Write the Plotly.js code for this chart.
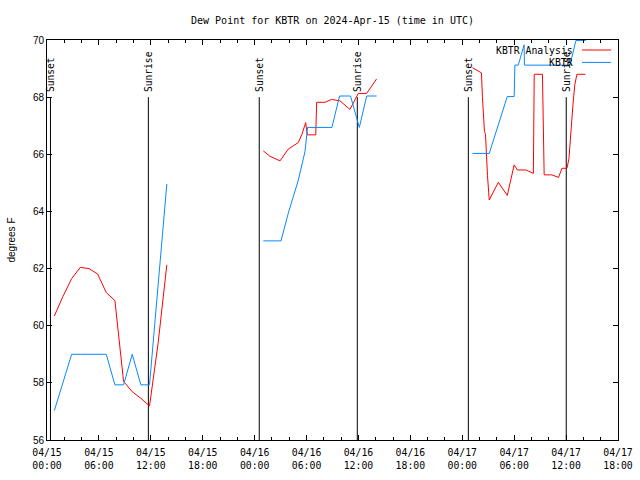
<!DOCTYPE html>
<html>
<head>
<meta charset="utf-8">
<script src="https://cdn.plot.ly/plotly-3.0.1.min.js"></script>
<style>html,body{margin:0;padding:0;background:#fff}#chart{width:640px;height:480px}</style>
</head>
<body>
<div id="chart"></div>
<script>
// ---- Data ----
const chartTitle = 'Dew Point for KBTR on 2024-Apr-15 (time in UTC)';
const yAxisTitle = 'degrees F';
const seriesNames = ['KBTR Analysis', 'KBTR'];
const seriesColors = ['#ff0000', '#0a88ff'];

// Day 1 (04/15) - hourly
const day1Times = ['2024-04-15 00:51','2024-04-15 01:51','2024-04-15 02:51','2024-04-15 03:51','2024-04-15 04:51',
  '2024-04-15 05:51','2024-04-15 06:51','2024-04-15 07:51','2024-04-15 08:51','2024-04-15 09:51',
  '2024-04-15 10:51','2024-04-15 11:51','2024-04-15 12:51','2024-04-15 13:51'];
const analysisDay1 = [60.34, 61.03, 61.65, 62.04, 62.0, 61.81, 61.16, 60.88, 58.05, 57.69, 57.46, 57.19, 59.4, 62.13];
const obsDay1 = [57.03, 58.0, 59.0, 59.0, 59.0, 59.0, 59.0, 57.93, 57.93, 59.0, 57.93, 57.93, 61.3, 64.96];

// Day 2 (04/16)
const analysisDay2Times = ['2024-04-16 01:00','2024-04-16 01:46','2024-04-16 02:56','2024-04-16 03:53','2024-04-16 05:03',
  '2024-04-16 05:28','2024-04-16 05:54','2024-04-16 06:05','2024-04-16 07:04','2024-04-16 07:10','2024-04-16 08:08',
  '2024-04-16 08:54','2024-04-16 09:52','2024-04-16 11:01','2024-04-16 11:59','2024-04-16 12:57','2024-04-16 14:06'];
const analysisDay2 = [66.12, 65.93, 65.77, 66.18, 66.41, 66.7, 67.11, 66.68, 66.68, 67.82, 67.82, 67.92, 67.87, 67.57, 68.13, 68.13, 68.64];
const obsDay2Times = ['2024-04-16 01:00','2024-04-16 03:03','2024-04-16 03:53','2024-04-16 05:03','2024-04-16 05:49',
  '2024-04-16 06:07','2024-04-16 08:56','2024-04-16 09:49','2024-04-16 11:05','2024-04-16 12:06','2024-04-16 12:57','2024-04-16 14:06'];
const obsDay2 = [62.97, 62.97, 63.93, 65.1, 66.09, 66.94, 66.94, 68.04, 68.04, 66.94, 68.04, 68.04];

// Day 3 (04/17)
const analysisDay3Times = ['2024-04-17 01:11','2024-04-17 02:08','2024-04-17 02:13','2024-04-17 02:20','2024-04-17 02:34',
  '2024-04-17 02:41','2024-04-17 02:49','2024-04-17 02:55','2024-04-17 03:07','2024-04-17 04:10','2024-04-17 05:12',
  '2024-04-17 06:00','2024-04-17 06:23','2024-04-17 07:24','2024-04-17 08:13','2024-04-17 08:19','2024-04-17 09:16',
  '2024-04-17 09:28','2024-04-17 10:22','2024-04-17 11:08','2024-04-17 11:31','2024-04-17 12:06','2024-04-17 12:20',
  '2024-04-17 12:34','2024-04-17 12:47','2024-04-17 13:01','2024-04-17 13:15','2024-04-17 14:14'];
const analysisDay3 = [69.03, 68.87, 68.85, 67.98, 66.8, 66.7, 65.75, 65.25, 64.4, 65.02, 64.56, 65.63, 65.45, 65.45,
  65.33, 68.8, 68.8, 65.28, 65.28, 65.19, 65.51, 65.51, 65.85, 66.9, 67.7, 68.45, 68.8, 68.8];
const obsDay3Times = ['2024-04-17 01:11','2024-04-17 03:07','2024-04-17 05:12','2024-04-17 06:00','2024-04-17 06:05',
  '2024-04-17 06:28','2024-04-17 07:09','2024-04-17 07:11','2024-04-17 12:27','2024-04-17 13:08','2024-04-17 14:16'];
const obsDay3 = [66.03, 66.03, 68.02, 68.02, 69.12, 69.12, 69.83, 69.12, 69.12, 69.98, 69.98];

// Sunrise / sunset markers
const sunEventTimes = ['2024-04-15 00:24','2024-04-15 11:43','2024-04-16 00:32','2024-04-16 11:52','2024-04-17 00:42','2024-04-17 12:01'];
const sunEventLabels = ['Sunset','Sunrise','Sunset','Sunrise','Sunset','Sunrise'];
const sunLineBottom = 56;
const sunLineTop = 68;

// Axes
const xRange = ['2024-04-15 00:00', '2024-04-17 18:00'];
const yRange = [56, 70];
const yTickVals = [56, 58, 60, 62, 64, 66, 68, 70];

// ---- Build chart ----
const mono = 'DejaVu Sans Mono, monospace';
const sans = 'Liberation Sans, Arial, sans-serif';

const analysisDays = [[day1Times, analysisDay1], [analysisDay2Times, analysisDay2], [analysisDay3Times, analysisDay3]];
const obsDays = [[day1Times, obsDay1], [obsDay2Times, obsDay2], [obsDay3Times, obsDay3]];

const traces = [];
analysisDays.forEach(function (d) {
  traces.push({x: d[0], y: d[1], type: 'scatter', mode: 'lines', name: seriesNames[0],
    line: {color: seriesColors[0], width: 1}, hoverinfo: 'x+y'});
});
obsDays.forEach(function (d) {
  traces.push({x: d[0], y: d[1], type: 'scatter', mode: 'lines', name: seriesNames[1],
    line: {color: seriesColors[1], width: 1}, hoverinfo: 'x+y'});
});

const shapes = sunEventTimes.map(function (t) {
  return {type: 'line', xref: 'x', yref: 'y', x0: t, x1: t, y0: sunLineBottom, y1: sunLineTop,
    line: {color: '#000', width: 1}, layer: 'below'};
});
const annotations = sunEventTimes.map(function (t, i) {
  return {x: t, y: sunLineTop, xref: 'x', yref: 'y', text: sunEventLabels[i], textangle: -90,
    showarrow: false, xanchor: 'center', yanchor: 'bottom', yshift: 3,
    font: {family: mono, size: 9.6, color: '#000'}};
});

// manual legend (text right-aligned, sample line to its right, as in reference)
const legendY = [0.975, 0.944];
seriesNames.forEach(function (n, i) {
  annotations.push({x: 0.9247, y: legendY[i], xref: 'paper', yref: 'paper', text: n, showarrow: false,
    xanchor: 'right', yanchor: 'middle', font: {family: mono, size: 9.8, color: '#000'}});
  shapes.push({type: 'line', xref: 'paper', yref: 'paper', x0: 0.937, x1: 0.988, y0: legendY[i], y1: legendY[i],
    line: {color: seriesColors[i], width: 1}});
});

const layout = {
  width: 640, height: 480,
  margin: {l: 47, r: 22, t: 40, b: 40},
  paper_bgcolor: '#fff', plot_bgcolor: '#fff',
  showlegend: false,
  title: {text: chartTitle, font: {family: mono, size: 10, color: '#000'},
    x: 0.5, xref: 'paper', xanchor: 'center', y: 1 - 20 / 480, yref: 'container', yanchor: 'middle'},
  xaxis: {
    type: 'date', range: xRange, tickmode: 'linear', tick0: xRange[0], dtick: 6 * 3600 * 1000,
    tickformat: '%m/%d<br>%H:%M', ticks: 'inside', ticklen: 5, tickcolor: '#000', tickwidth: 1,
    ticklabelstandoff: 3,
    showline: true, linecolor: '#000', linewidth: 1, mirror: 'allticks',
    showgrid: false, zeroline: false,
    tickfont: {family: mono, size: 9.8, color: '#000'},
    minor: {tick0: xRange[0], dtick: 2 * 3600 * 1000, ticks: 'inside', ticklen: 3, tickcolor: '#000', showgrid: false}
  },
  yaxis: {
    range: yRange, tickmode: 'array', tickvals: yTickVals,
    ticks: 'inside', ticklen: 5, tickcolor: '#000', tickwidth: 1,
    showline: true, linecolor: '#000', linewidth: 1, mirror: 'allticks',
    showgrid: false, zeroline: false,
    tickfont: {family: sans, size: 10, color: '#000'},
    title: {text: yAxisTitle, font: {family: sans, size: 10, color: '#000'}, standoff: 15}
  },
  shapes: shapes,
  annotations: annotations
};

Plotly.newPlot('chart', traces, layout, {displayModeBar: false, staticPlot: true});
</script>
</body>
</html>
